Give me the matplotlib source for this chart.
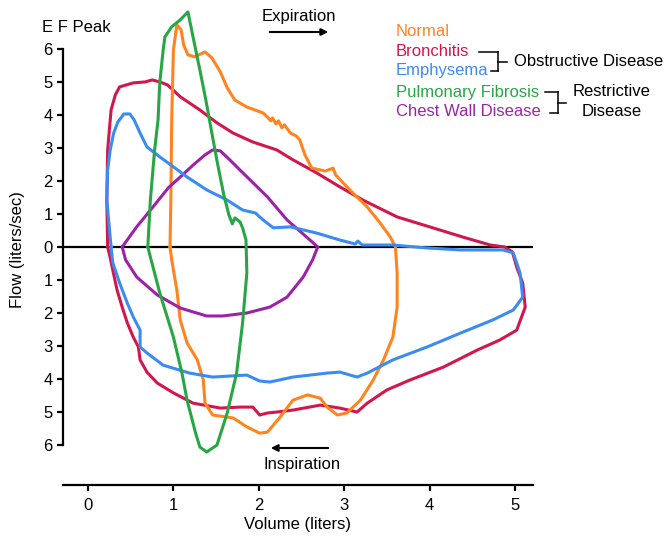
import matplotlib
matplotlib.use("Agg")
import matplotlib.pyplot as plt
from matplotlib.lines import Line2D

plt.rcParams['font.family'] = ['Liberation Sans', 'DejaVu Sans']

# Flow-volume loops (volume in liters, flow in liters/sec)
normal_vol = [0.96, 0.97, 0.98, 1.00, 1.04, 1.09, 1.12, 1.17, 1.25, 1.37, 1.45, 1.55, 1.63, 1.72,
              1.86, 2.05, 2.11, 2.14, 2.16, 2.20, 2.23, 2.27, 2.30, 2.37, 2.44, 2.48, 2.54, 2.62,
              2.78, 2.87, 2.90, 3.01, 3.10, 3.27, 3.42, 3.54, 3.60, 3.62, 3.62, 3.57, 3.46, 3.34,
              3.19, 3.03, 2.92, 2.80, 2.72, 2.57, 2.40, 2.25, 2.10, 2.01, 1.86, 1.70, 1.46, 1.37,
              1.35, 1.28, 1.16, 1.08, 1.04, 0.98, 0.96]
normal_flow = [0.0, 1.42, 3.85, 5.97, 6.73, 6.58, 6.12, 5.82, 5.76, 5.91, 5.73, 5.30, 4.82, 4.45,
               4.24, 4.06, 3.91, 3.82, 3.91, 3.73, 3.82, 3.61, 3.70, 3.45, 3.36, 3.24, 2.79, 2.39,
               2.30, 2.39, 2.18, 1.88, 1.64, 1.21, 0.73, 0.30, 0.0, -0.79, -1.82, -2.73, -3.42, -4.03,
               -4.64, -5.03, -5.09, -4.85, -4.58, -4.48, -4.64, -5.15, -5.61, -5.64, -5.45, -5.18,
               -5.09, -4.73, -4.03, -3.42, -2.91, -2.21, -1.30, -0.39, 0.0]

bronchitis_vol = [0.23, 0.22, 0.23, 0.27, 0.32, 0.37, 0.53, 0.67, 0.75, 0.84, 0.93, 1.08, 1.31, 1.51,
                  1.70, 1.93, 2.21, 2.40, 2.68, 2.95, 3.22, 3.62, 4.00, 4.39, 4.71, 4.88, 4.97, 5.02,
                  5.09, 5.12, 5.02, 4.82, 4.56, 4.16, 3.77, 3.50, 3.27, 3.15, 2.95, 2.72, 2.40, 2.21,
                  2.10, 2.01, 1.93, 1.78, 1.55, 1.23, 1.00, 0.81, 0.69, 0.61, 0.59, 0.53, 0.46, 0.40,
                  0.34, 0.29, 0.26, 0.23]
bronchitis_flow = [0.0, 1.42, 2.94, 4.15, 4.61, 4.85, 4.97, 5.00, 5.06, 5.00, 4.91, 4.55, 4.15, 3.76,
                   3.45, 3.18, 2.94, 2.64, 2.24, 1.82, 1.42, 0.91, 0.61, 0.30, 0.06, 0.0, -0.15, -0.61,
                   -1.09, -1.82, -2.52, -2.82, -3.12, -3.64, -4.03, -4.33, -4.73, -5.00, -4.88, -4.79,
                   -4.94, -5.00, -5.03, -5.09, -4.85, -4.85, -4.88, -4.73, -4.42, -4.12, -3.79, -3.42,
                   -3.03, -2.73, -2.30, -1.82, -1.30, -0.70, -0.33, 0.0]

emphysema_vol = [0.27, 0.22, 0.23, 0.26, 0.30, 0.35, 0.42, 0.49, 0.54, 0.61, 0.69, 0.84, 1.02, 1.16,
                 1.39, 1.63, 1.81, 1.96, 2.05, 2.17, 2.37, 2.68, 2.95, 3.13, 3.16, 3.21, 3.57, 3.97,
                 4.36, 4.86, 4.98, 5.06, 5.09, 4.98, 4.74, 4.36, 3.97, 3.57, 3.27, 3.15, 2.95, 2.80,
                 2.40, 2.13, 2.01, 1.86, 1.46, 1.19, 0.88, 0.69, 0.61, 0.61, 0.53, 0.46, 0.37, 0.29,
                 0.27]
emphysema_flow = [0.0, 1.42, 2.33, 2.94, 3.45, 3.79, 4.03, 4.03, 3.85, 3.45, 3.03, 2.73, 2.39, 2.12,
                  1.73, 1.42, 1.12, 1.03, 0.82, 0.58, 0.61, 0.42, 0.21, 0.09, 0.18, 0.06, 0.06, -0.03,
                  -0.09, -0.09, -0.18, -0.79, -1.52, -1.91, -2.21, -2.61, -3.03, -3.42, -3.82, -3.94,
                  -3.79, -3.82, -3.94, -4.09, -4.06, -3.88, -3.94, -3.82, -3.58, -3.21, -3.03, -2.52,
                  -2.12, -1.70, -1.09, -0.48, 0.0]

fibrosis_vol = [0.70, 0.73, 0.78, 0.82, 0.84, 0.88, 0.90, 0.98, 1.08, 1.17, 1.23, 1.31, 1.38, 1.45,
                1.52, 1.59, 1.65, 1.69, 1.72, 1.78, 1.81, 1.85, 1.86, 1.81, 1.74, 1.63, 1.51, 1.39,
                1.31, 1.26, 1.16, 1.10, 1.00, 0.84, 0.73, 0.70]
fibrosis_flow = [0.0, 1.42, 2.94, 3.85, 4.97, 5.97, 6.36, 6.67, 6.88, 7.12, 6.36, 5.36, 4.45, 3.45,
                 2.48, 1.58, 0.97, 0.70, 0.88, 0.76, 0.58, 0.21, -0.79, -2.30, -3.82, -5.03, -6.00,
                 -6.21, -6.06, -5.64, -4.64, -3.82, -2.73, -1.39, -0.30, 0.0]

chestwall_vol = [0.40, 0.57, 0.76, 0.94, 1.08, 1.23, 1.37, 1.46, 1.55, 1.66, 1.78, 2.10, 2.33, 2.56,
                 2.69, 2.63, 2.52, 2.33, 2.13, 1.86, 1.58, 1.39, 1.08, 0.81, 0.57, 0.44, 0.40]
chestwall_flow = [0.0, 0.61, 1.21, 1.79, 2.12, 2.48, 2.79, 2.94, 2.91, 2.64, 2.33, 1.52, 0.82, 0.30,
                  0.0, -0.39, -0.91, -1.52, -1.82, -2.00, -2.09, -2.09, -1.85, -1.45, -0.91, -0.39, 0.0]

series_names = ["Normal", "Bronchitis", "Emphysema", "Pulmonary Fibrosis", "Chest Wall Disease"]
series_colors = ["#ff8420", "#d3164c", "#3a8cf0", "#28a645", "#9c22a8"]

y_ticks = [-6, -5, -4, -3, -2, -1, 0, 1, 2, 3, 4, 5, 6]
x_ticks = [0, 1, 2, 3, 4, 5]

W, H = 666, 538
FS = 12
fig = plt.figure(figsize=(W / 100, H / 100), dpi=100)


def fx(px):
    return px / W


def fy(py):
    return 1 - py / H


ax = fig.add_axes([fx(63), fy(485), (533 - 63) / W, (485 - 5) / H])
ax.set_xlim(-0.293, 5.211)
ax.set_ylim(-7.21, 7.33)

ax.axhline(0, color="black", lw=1.6, zorder=1)

curves = [(normal_vol, normal_flow), (bronchitis_vol, bronchitis_flow),
          (emphysema_vol, emphysema_flow), (fibrosis_vol, fibrosis_flow),
          (chestwall_vol, chestwall_flow)]
orders = [3, 2, 4, 5, 3]
for (v, f), c, z in zip(curves, series_colors, orders):
    ax.plot(v, f, color=c, lw=2.2, solid_joinstyle="round", solid_capstyle="round", zorder=z)

for s in ["top", "right"]:
    ax.spines[s].set_visible(False)
ax.spines["left"].set_bounds(-6, 6)
ax.spines["left"].set_linewidth(1.6)
ax.spines["bottom"].set_linewidth(1.6)

ax.set_yticks(y_ticks)
ax.set_yticklabels([str(abs(t)) for t in y_ticks])
ax.set_xticks(x_ticks)
ax.tick_params(axis="both", direction="out", length=4.5, width=1.6, labelsize=FS, colors="black")
ax.tick_params(axis="y", pad=3)
ax.tick_params(axis="x", pad=5)

fig.text(fx(18), fy(250), "Flow (liters/sec)", rotation=90, ha="center", va="center", fontsize=FS)
fig.text(fx(298), fy(525), "Volume (liters)", ha="center", va="center", fontsize=FS)
fig.text(fx(42), fy(27), "E F Peak", ha="left", va="center", fontsize=FS)

fig.text(fx(299), fy(17), "Expiration", ha="center", va="center", fontsize=FS)
fig.text(fx(302), fy(464), "Inspiration", ha="center", va="center", fontsize=FS)
fig.add_artist(matplotlib.patches.FancyArrowPatch((fx(267), fy(32)), (fx(331), fy(32)),
               transform=fig.transFigure, arrowstyle="-|>", mutation_scale=10, lw=1.5, color="black"))
fig.add_artist(matplotlib.patches.FancyArrowPatch((fx(331), fy(448)), (fx(268), fy(448)),
               transform=fig.transFigure, arrowstyle="-|>", mutation_scale=10, lw=1.5, color="black"))

# legend text
legend_y = [32, 52, 71, 92, 112]
for name, c, py in zip(series_names, series_colors, legend_y):
    fig.text(fx(396), fy(py), name, color=c, ha="left", va="center", fontsize=FS)


def bracket(x_top, x_bot, xm, y0, y1, xtick):
    pts = [((fx(x_top), fx(xm)), (fy(y0), fy(y0))),
           ((fx(xm), fx(xm)), (fy(y0), fy(y1))),
           ((fx(x_bot), fx(xm)), (fy(y1), fy(y1))),
           ((fx(xm), fx(xtick)), (fy((y0 + y1) / 2), fy((y0 + y1) / 2)))]
    for xs, ys in pts:
        fig.add_artist(Line2D(xs, ys, color="black", lw=1.1, transform=fig.transFigure))


bracket(479, 491, 498, 52, 71, 507)
bracket(545, 550, 558, 92, 113, 566)
fig.text(fx(514), fy(61), "Obstructive Disease", ha="left", va="center", fontsize=FS)
fig.text(fx(612), fy(92), "Restrictive", ha="center", va="center", fontsize=FS)
fig.text(fx(612), fy(112), "Disease", ha="center", va="center", fontsize=FS)

fig.savefig("out.png", dpi=100)
